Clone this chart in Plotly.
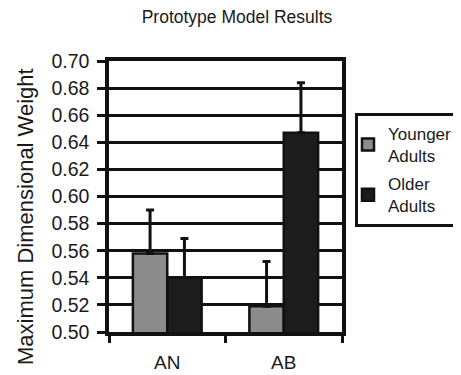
import plotly.graph_objects as go

categories = ["AN", "AB"]
younger = [0.558, 0.519]
older = [0.540, 0.647]
younger_err = [0.032, 0.033]
older_err = [0.029, 0.037]
series_names = ["Younger<br>Adults", "Older<br>Adults"]
y_ticks = [0.50, 0.52, 0.54, 0.56, 0.58, 0.60, 0.62, 0.64, 0.66, 0.68, 0.70]

FONT = "Liberation Sans, Arial, sans-serif"
TXT = "#1a1a1a"

# page body has an 8px margin, so the figure is sized/offset to compensate
W, H = 453, 367
L, R, T, B = 101, 119, 53, 43
PW, PH = W - L - R, H - T - B

fig = go.Figure()
for i, (name, vals, errs, col) in enumerate([
    (series_names[0], younger, younger_err, "#8c8c8c"),
    (series_names[1], older, older_err, "#1c1c1c"),
]):
    fig.add_trace(go.Bar(
        x=categories, y=vals, name=name, legendgroup=f"g{i}",
        marker=dict(color=col, line=dict(color="#111", width=2.5)),
        error_y=dict(type="data", symmetric=False, array=errs,
                     arrayminus=[0] * len(errs), color="#111",
                     thickness=3, width=4),
    ))

fig.update_layout(
    width=W, height=H,
    margin=dict(l=L, r=R, t=T, b=B, autoexpand=False),
    paper_bgcolor="white", plot_bgcolor="white",
    font=dict(family=FONT, color=TXT),
    barmode="group", bargap=0.41, bargroupgap=0,
    title=dict(text="Prototype Model Results", x=229 / W, xref="container",
               xanchor="center", y=1 - 9 / H, yref="container",
               yanchor="middle", font=dict(size=17.5, family=FONT, color=TXT)),
    legend=dict(x=(347 - L) / PW, y=(324 - 105) / PH,
                xanchor="left", yanchor="top", bordercolor="#111",
                borderwidth=3, bgcolor="white", indentation=-10,
                tracegroupgap=3,
                font=dict(size=17, family=FONT, color=TXT)),
    showlegend=True,
)
fig.update_yaxes(range=[0.50, 0.70], tickvals=y_ticks, tickformat=".2f",
                 showgrid=True, gridcolor="#111", gridwidth=3,
                 showline=True, linecolor="#111", linewidth=3.5, mirror=True,
                 ticks="outside", ticklen=8, tickwidth=3, tickcolor="#111",
                 tickfont=dict(size=19.5, family=FONT, color=TXT),
                 ticklabelstandoff=4, zeroline=False)
fig.update_xaxes(showline=True, linecolor="#111", linewidth=3.5, mirror=True,
                 ticks="outside", tickson="boundaries", ticklen=7,
                 tickwidth=3, tickcolor="#111",
                 tickfont=dict(size=19, family=FONT, color=TXT),
                 ticklabelstandoff=10, showgrid=False)
fig.add_annotation(text="Maximum Dimensional Weight", textangle=-90,
                   xref="paper", yref="paper",
                   x=-(L - 17) / PW, y=(324 - 209) / PH,
                   xanchor="center", yanchor="middle", showarrow=False,
                   font=dict(size=22, family=FONT, color=TXT))

fig.write_html("out.html")
